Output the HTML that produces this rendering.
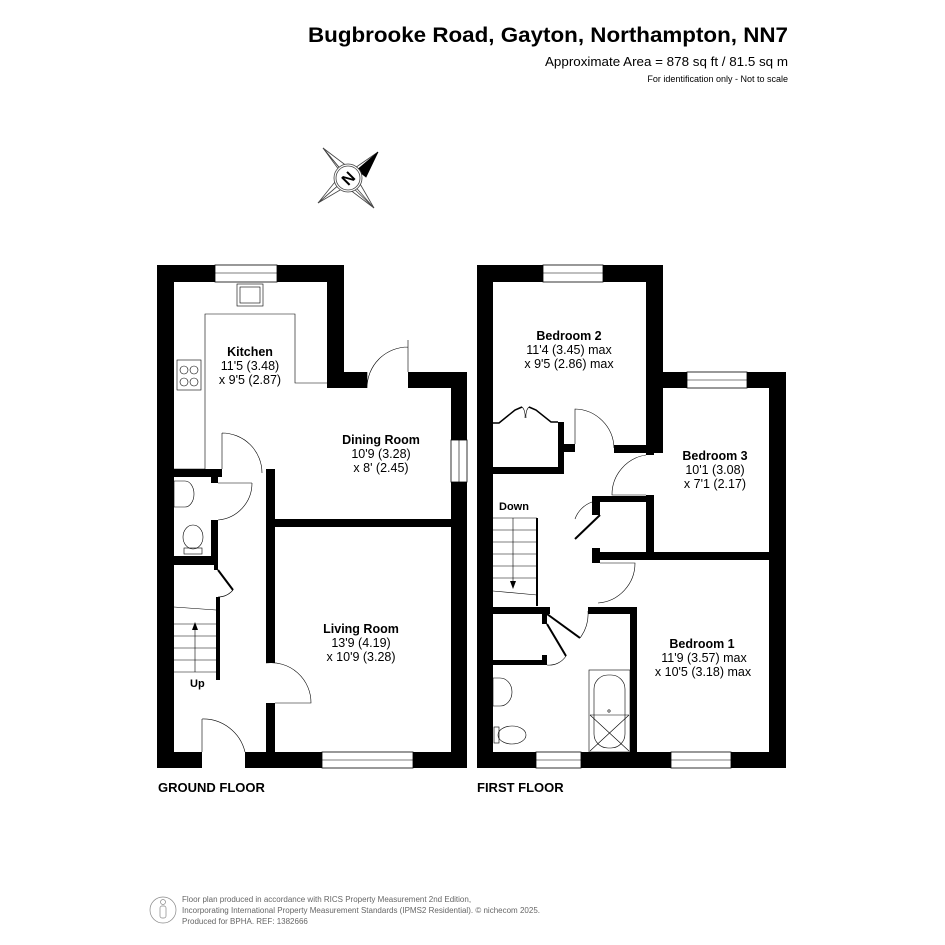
<!DOCTYPE html>
<html><head><meta charset="utf-8"><style>
html,body{margin:0;padding:0;background:#fff;}
svg{display:block;font-family:"Liberation Sans",Arial,sans-serif;}
</style></head><body>
<svg width="945" height="945" viewBox="0 0 945 945" xmlns="http://www.w3.org/2000/svg">
<rect width="945" height="945" fill="#fff"/>
<!-- Header -->
<text x="308" y="42" font-size="21.5" font-weight="bold" textLength="480" lengthAdjust="spacingAndGlyphs">Bugbrooke Road, Gayton, Northampton, NN7</text>
<text x="545" y="66" font-size="13" textLength="243" lengthAdjust="spacingAndGlyphs">Approximate Area = 878 sq ft / 81.5 sq m</text>
<text x="788" y="82" text-anchor="end" font-size="9">For identification only - Not to scale</text>

<!-- Compass -->
<g stroke="#444" stroke-width="0.8" fill="#fff">
<polygon points="323,148 343,172 352,183 318,203 341,183 352,170 374,208 350,185"/>
<polygon points="323,148 352,170 378,152 352,183 374,208 341,183 318,203 343,172" fill="none"/>
<polygon points="378,152 357,170 366,177" fill="#000" stroke="#000"/>
<circle cx="348" cy="178" r="14" fill="#fff"/>
<circle cx="348" cy="178" r="12" fill="none"/>
</g>
<text x="348" y="184" text-anchor="middle" font-size="16" font-weight="bold" transform="rotate(-45 348 178)">N</text>

<!-- GROUND FLOOR -->
<g fill="#000">
<rect x="157" y="265" width="17" height="503"/>
<rect x="157" y="265" width="187" height="17"/>
<rect x="327" y="265" width="17" height="123"/>
<rect x="327" y="372" width="40" height="16"/>
<rect x="408" y="372" width="59" height="16"/>
<rect x="451" y="372" width="16" height="396"/>
<rect x="157" y="752" width="45" height="16"/>
<rect x="245" y="752" width="222" height="16"/>
<rect x="275" y="519" width="176" height="8"/>
<rect x="266" y="469" width="9" height="194"/>
<rect x="266" y="703" width="9" height="49"/>
<rect x="174" y="469" width="48" height="8"/>
<rect x="211" y="469" width="7" height="14"/>
<rect x="211" y="520" width="7" height="45"/>
<rect x="174" y="556" width="44" height="9"/>
<rect x="214" y="565" width="4" height="5"/>
<rect x="216" y="597" width="4" height="83"/>
</g>
<g fill="#fff" stroke="#000" stroke-width="0.8">
<rect x="215" y="265" width="62" height="17"/>
<rect x="451" y="440" width="16" height="42"/>
<rect x="322" y="752" width="91" height="16"/>
</g>
<g stroke="#000" stroke-width="0.6" fill="none">
<line x1="215" y1="273" x2="277" y2="273"/>
<line x1="459" y1="440" x2="459" y2="482"/>
<line x1="322" y1="760" x2="413" y2="760"/>
<polyline points="174,469 205,469 205,314 295,314 295,383 327,383"/>
<rect x="237" y="284" width="26" height="22"/><rect x="240" y="287" width="20" height="16"/>
<rect x="177" y="360" width="24" height="30"/>
<circle cx="184" cy="370" r="4"/><circle cx="194" cy="370" r="4"/><circle cx="184" cy="382" r="4"/><circle cx="194" cy="382" r="4"/>
<path d="M367,372 L367,388 M408,340 L408,372 M367,388 A41,41 0 0 1 408,347"/>
<path d="M222,433 L222,469 M222,433 A40,40 0 0 1 262,473"/>
<path d="M218,483 L252,483 M252,483 A37,37 0 0 1 218,520"/>
<path d="M266,663 A40,40 0 0 1 311,703 L275,703"/>
<path d="M202,719 L202,752 M202,719 A43,43 0 0 1 245,752"/>
<line x1="218" y1="570" x2="233" y2="590" stroke-width="2"/>
<path d="M233,590 A20,20 0 0 1 218,597"/>
<path d="M174,481 L185,481 A9,13 0 0 1 185,507 L174,507 Z"/>
<ellipse cx="193" cy="537" rx="10" ry="12"/>
<rect x="184" y="548" width="18" height="6"/>
<line x1="174" y1="607" x2="216" y2="610"/>
<line x1="174" y1="624" x2="216" y2="624"/>
<line x1="174" y1="636" x2="216" y2="636"/>
<line x1="174" y1="648" x2="216" y2="648"/>
<line x1="174" y1="660" x2="216" y2="660"/>
<line x1="174" y1="672" x2="216" y2="672"/>
<line x1="195" y1="625" x2="195" y2="672"/>
</g>
<polygon points="195,622 192,630 198,630" fill="#000"/>
<text x="190" y="687" font-size="11" font-weight="bold">Up</text>

<g text-anchor="middle" font-size="12.5">
<text x="250" y="356" font-weight="bold">Kitchen</text>
<text x="250" y="370">11'5 (3.48)</text>
<text x="250" y="384">x 9'5 (2.87)</text>
<text x="381" y="444" font-weight="bold">Dining Room</text>
<text x="381" y="458">10'9 (3.28)</text>
<text x="381" y="472">x 8' (2.45)</text>
<text x="361" y="633" font-weight="bold">Living Room</text>
<text x="361" y="647">13'9 (4.19)</text>
<text x="361" y="661">x 10'9 (3.28)</text>
</g>
<text x="158" y="792" font-size="13" font-weight="bold">GROUND FLOOR</text>

<!-- FIRST FLOOR -->
<g fill="#000">
<rect x="477" y="265" width="16" height="503"/>
<rect x="477" y="265" width="186" height="17"/>
<rect x="646" y="265" width="17" height="188"/>
<rect x="646" y="372" width="140" height="16"/>
<rect x="769" y="372" width="17" height="396"/>
<rect x="477" y="752" width="309" height="16"/>
<rect x="614" y="445" width="49" height="8"/>
<rect x="646" y="453" width="8" height="2"/>
<rect x="646" y="495" width="8" height="65"/>
<rect x="593" y="552" width="176" height="8"/>
<rect x="493" y="467" width="71" height="7"/>
<rect x="558" y="422" width="6" height="52"/>
<rect x="564" y="444" width="11" height="8"/>
<rect x="592" y="496" width="54" height="6"/>
<rect x="592" y="496" width="8" height="19"/>
<rect x="592" y="548" width="8" height="15"/>
<rect x="493" y="607" width="57" height="7"/>
<rect x="588" y="607" width="49" height="7"/>
<rect x="630" y="607" width="7" height="145"/>
<rect x="542" y="614" width="5" height="10"/>
<rect x="542" y="655" width="5" height="10"/>
<rect x="493" y="660" width="54" height="5"/>
</g>
<g fill="#fff" stroke="#000" stroke-width="0.8">
<rect x="543" y="265" width="60" height="17"/>
<rect x="687" y="372" width="60" height="16"/>
<rect x="536" y="752" width="45" height="16"/>
<rect x="671" y="752" width="60" height="16"/>
</g>
<g stroke="#000" stroke-width="0.6" fill="none">
<line x1="543" y1="273" x2="603" y2="273"/>
<line x1="687" y1="380" x2="747" y2="380"/>
<line x1="536" y1="760" x2="581" y2="760"/>
<line x1="671" y1="760" x2="731" y2="760"/>
<polyline points="493,423 499,423 515,410 522,407" stroke-width="1.5"/>
<polyline points="558,422 551,422 536,410 529,407" stroke-width="1.5"/>
<path d="M522,407 A6,10 0 0 1 525,418 M529,407 A6,10 0 0 0 526,418"/>
<path d="M575,444 L575,409 A40,40 0 0 1 614,448"/>
<path d="M646,455 A40,40 0 0 0 612,495 L646,495"/>
<path d="M600,515 L575,539" stroke-width="2"/>
<path d="M575,519 A28,28 0 0 1 592,502"/>
<path d="M600,563 L635,563 A40,40 0 0 1 598,603"/>
<line x1="547" y1="614" x2="580" y2="638" stroke-width="2"/>
<path d="M580,638 A40,40 0 0 0 588,611"/>
<line x1="547" y1="624" x2="566" y2="656" stroke-width="2"/>
<path d="M566,656 A20,20 0 0 1 547,665"/>
<line x1="493" y1="518" x2="537" y2="518"/>
<line x1="537" y1="518" x2="537" y2="606" stroke-width="2"/>
<line x1="493" y1="530" x2="537" y2="530"/>
<line x1="493" y1="542" x2="537" y2="542"/>
<line x1="493" y1="554" x2="537" y2="554"/>
<line x1="493" y1="566" x2="537" y2="566"/>
<line x1="493" y1="578" x2="537" y2="578"/>
<line x1="493" y1="591" x2="537" y2="595"/>
<line x1="513" y1="518" x2="513" y2="585"/>
<rect x="589" y="670" width="41" height="82"/>
<rect x="594" y="675" width="31" height="73" rx="14"/>
<line x1="590" y1="715" x2="629" y2="751"/><line x1="629" y1="715" x2="590" y2="751"/>
<line x1="590" y1="715" x2="629" y2="715"/>
<circle cx="609" cy="711" r="1.2"/>
<path d="M493,678 L500,678 A12,14 0 0 1 500,706 L493,706 Z"/>
<ellipse cx="512" cy="735" rx="14" ry="9"/>
<rect x="494" y="727" width="5" height="16"/>
</g>
<polygon points="513,589 510,581 516,581" fill="#000"/>
<text x="499" y="510" font-size="11" font-weight="bold">Down</text>
<g text-anchor="middle" font-size="12.5">
<text x="569" y="340" font-weight="bold">Bedroom 2</text>
<text x="569" y="354">11'4 (3.45) max</text>
<text x="569" y="368">x 9'5 (2.86) max</text>
<text x="715" y="460" font-weight="bold">Bedroom 3</text>
<text x="715" y="474">10'1 (3.08)</text>
<text x="715" y="488">x 7'1 (2.17)</text>
<text x="702" y="648" font-weight="bold">Bedroom 1</text>
<text x="704" y="662">11'9 (3.57)  max</text>
<text x="703" y="676">x 10'5 (3.18) max</text>
</g>
<text x="477" y="792" font-size="13" font-weight="bold">FIRST FLOOR</text>

<!-- Footer -->
<g stroke="#888" stroke-width="0.7" fill="none">
<circle cx="163" cy="910" r="13"/>
<circle cx="163" cy="902" r="2.5"/>
<rect x="160" y="906" width="6" height="12" rx="2"/>
</g>
<g font-size="8" fill="#666">
<text x="182" y="902">Floor plan produced in accordance with RICS Property Measurement 2nd Edition,</text>
<text x="182" y="913" textLength="358" lengthAdjust="spacingAndGlyphs">Incorporating International Property Measurement Standards (IPMS2 Residential).   © nichecom 2025.</text>
<text x="182" y="924">Produced for BPHA.   REF: 1382666</text>
</g>
</svg>
</body></html>
